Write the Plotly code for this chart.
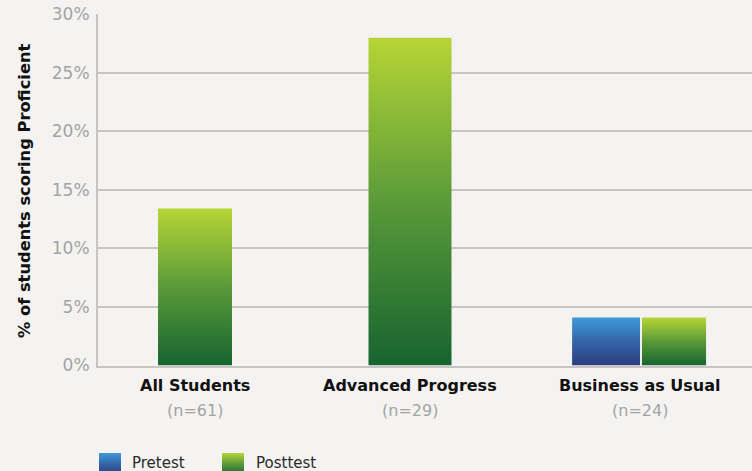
import plotly.graph_objects as go

# ---------------- data ----------------
groups = ["All Students", "Advanced Progress", "Business as Usual"]
n_labels = ["(n=61)", "(n=29)", "(n=24)"]
series_names = ["Pretest", "Posttest"]
pretest = [None, None, 4.1]
posttest = [13.4, 28.0, 4.1]
y_tick_vals = [0, 5, 10, 15, 20, 25, 30]
y_tick_text = ["0%", "5%", "10%", "15%", "20%", "25%", "30%"]

# ---------------- layout / style constants ----------------
W, H = 752, 471
M_T, M_L = 14, 98
PLOT_BOTTOM_PX = 365.5
BG = "#f4f3f1"
GRID = "#c6c5c3"
group_x = [0, 1, 2.07]
x_range = [-0.4512, 2.5907]
solo_width = [0.344, 0.386, 0.37]
pair_offset = 0.158
pair_width = [0.316, 0.298]
scales = {
    "Pretest": [[0, "#2c3c7d"], [0.5, "#3466a8"], [1, "#3f9ad8"]],
    "Posttest": [[0, "#166430"], [0.5, "#5a9a39"], [1, "#b6d535"]],
}
FONT = "DejaVu Sans"


def paper_y(py):
    return (H - py) / (H - M_T)


fig = go.Figure()


def add_bar(xc, w, v, name, xa="x", ya="y", y0=0):
    xs = [xc - w / 2, xc - w / 2, xc + w / 2, xc + w / 2, xc - w / 2]
    ys = [y0, v, v, y0, y0]
    fig.add_trace(go.Scatter(
        x=xs, y=ys, fill="toself", mode="lines",
        line=dict(width=0, color="rgba(0,0,0,0)"),
        fillgradient=dict(type="vertical", colorscale=scales[name]),
        hoverinfo="skip", showlegend=False, xaxis=xa, yaxis=ya,
    ))


for i, g in enumerate(groups):
    vals = {"Pretest": pretest[i], "Posttest": posttest[i]}
    present = [s for s in series_names if vals[s] is not None]
    if len(present) == 2:
        for k, s in enumerate(present):
            off = -pair_offset if k == 0 else pair_offset
            add_bar(group_x[i] + off, pair_width[k], vals[s], s)
    else:
        for s in present:
            add_bar(group_x[i], solo_width[i], vals[s], s)

# legend swatches (on an auxiliary axis pair covering the legend strip)
legend_swatch_x = [110, 233]
legend_text_x = [130, 254]
for k, s in enumerate(series_names):
    add_bar(legend_swatch_x[k], 22, 18, s, xa="x2", ya="y2", y0=-4)

annotations = []
for k, s in enumerate(series_names):
    annotations.append(dict(
        x=legend_text_x[k], y=8.5, xref="x2", yref="y2", text=s,
        showarrow=False, xanchor="left", yanchor="middle",
        font=dict(family=FONT, size=15, color="#2a2a2a"),
    ))

for i, g in enumerate(groups):
    annotations.append(dict(
        x=group_x[i], y=paper_y(385.5), xref="x", yref="paper",
        text="<b>" + g + "</b>", showarrow=False, xanchor="center", yanchor="middle",
        font=dict(family=FONT, size=16, color="#111111"),
    ))
    annotations.append(dict(
        x=group_x[i], y=paper_y(410), xref="x", yref="paper",
        text=n_labels[i], showarrow=False, xanchor="center", yanchor="middle",
        font=dict(family=FONT, size=16, color="#a3a3a3"),
    ))

annotations.append(dict(
    x=(24 - M_L) / (W - M_L), y=paper_y(191), xref="paper", yref="paper",
    text="<b>% of students scoring Proficient</b>", textangle=-90,
    showarrow=False, xanchor="center", yanchor="middle",
    font=dict(family=FONT, size=16.3, color="#111111"),
))

fig.update_layout(
    width=W, height=H, autosize=False,
    margin=dict(l=M_L, r=0, t=M_T, b=0, pad=0, autoexpand=False),
    paper_bgcolor=BG, plot_bgcolor=BG,
    showlegend=False,
    annotations=annotations,
    xaxis=dict(
        domain=[0, 1], anchor="y", range=x_range, showgrid=False, zeroline=False,
        showticklabels=False, ticks="", showline=True, linecolor=GRID, linewidth=2,
        automargin=False,
    ),
    yaxis=dict(
        domain=[paper_y(PLOT_BOTTOM_PX), 1], anchor="x", range=[0, 30.02],
        tickvals=y_tick_vals, ticktext=y_tick_text, ticks="",
        ticklabelstandoff=3,
        tickfont=dict(family=FONT, size=17, color="#a3a3a3"),
        showgrid=True, gridcolor=GRID, gridwidth=1.5, zeroline=False,
        showline=True, linecolor=GRID, linewidth=2, automargin=False,
    ),
    xaxis2=dict(domain=[0, 1], anchor="y2", range=[M_L, W], visible=False, automargin=False),
    yaxis2=dict(domain=[0, paper_y(440)], anchor="x2", range=[0, H - 440], visible=False,
                automargin=False),
)

fig.write_html(
    "out.html",
    config={"displayModeBar": False},
    post_script="document.body.style.margin='0';document.body.style.background='%s';" % BG,
)
